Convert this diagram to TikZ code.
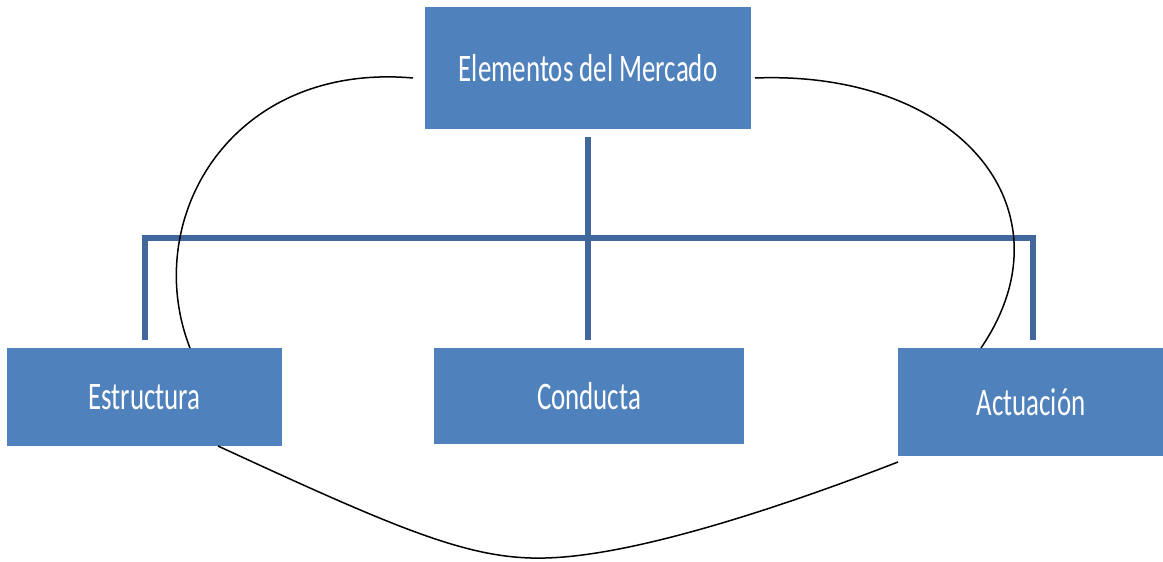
\documentclass[tikz,border=0pt]{standalone}
\usepackage{fontspec}
\setmainfont{Carlito}
\usetikzlibrary{calc}
\definecolor{boxblue}{HTML}{4F81BD}
\definecolor{linkblue}{HTML}{41679C}
\newcommand{\boxtext}[1]{\scalebox{0.69}[1]{\fontsize{39}{42}\selectfont #1}}
\begin{document}
\begin{tikzpicture}[x=1pt,y=-1pt,
  blockbox/.style={fill=boxblue,draw=none,text=white,inner sep=0pt},
  treeline/.style={draw=linkblue,line width=6pt},
  loopline/.style={draw=black,line width=1.5pt}]
\useasboundingbox (0,0) rectangle (1163,562);
\node[blockbox,minimum width=326pt,minimum height=122pt] (top) at (588,68) {\boxtext{Elementos del Mercado}};
\node[blockbox,minimum width=275pt,minimum height=98pt] (est) at (144.5,397) {\boxtext{Estructura}};
\node[blockbox,minimum width=310pt,minimum height=96pt] (con) at (589,396) {\boxtext{Conducta}};
\node[blockbox,minimum width=267pt,minimum height=108pt] (act) at (1031,402) {\boxtext{Actuación}};
% tree connectors
\coordinate (hub) at (588,238);
\coordinate (hl) at (145,238);
\coordinate (hr) at (1033,238);
\draw[treeline] ($(top.south)+(0,8)$) -- (hub);
\draw[treeline,line cap=rect] (hl) -- (hr);
\draw[treeline] (hl) -- ($(est.north)+(0.5,-8)$);
\draw[treeline] (hub) -- ($(con.north)+(-1,-8)$);
\draw[treeline] (hr) -- ($(act.north)+(2,-8)$);
% loop curves
\coordinate (l1) at (413,78);
\coordinate (l2) at (190,348);
\coordinate (r1) at (755,78);
\coordinate (r2) at (981,348);
\coordinate (b1) at (218,446);
\coordinate (b2) at (898,462);
\coordinate (bm) at (545,558);
\draw[loopline] (l1) .. controls (230,62) and (140,220) .. (l2);
\draw[loopline] (r1) .. controls (960,70) and (1075,210) .. (r2);
\draw[loopline] (b1) .. controls (400,530) and (470,560) .. (bm) .. controls (640,556) and (800,500) .. (b2);
\end{tikzpicture}
\end{document}
